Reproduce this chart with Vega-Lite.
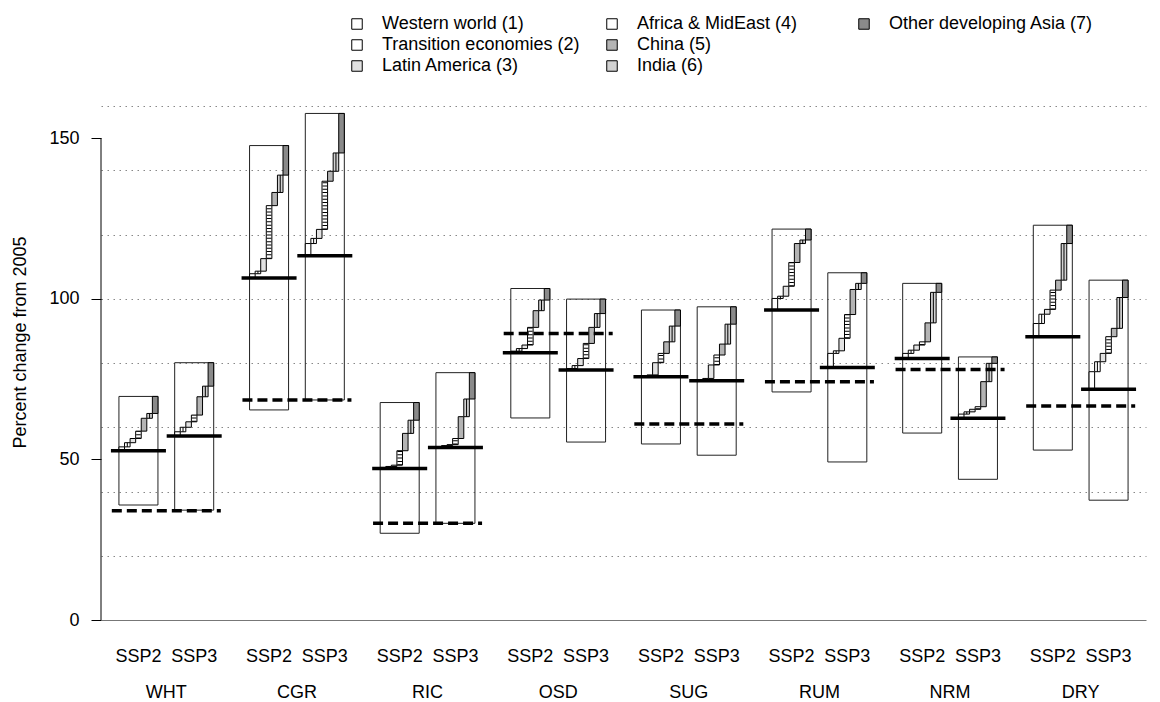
{
  "$schema": "https://vega.github.io/schema/vega-lite/v6.json",
  "width": 1045,
  "height": 530,
  "autosize": "none",
  "padding": {"left": 101, "top": 90, "right": 14, "bottom": 82},
  "background": "white",
  "config": {
    "view": {"stroke": null},
    "font": "Liberation Sans",
    "legend": {
      "orient": "none",
      "title": null,
      "symbolType": "square",
      "symbolSize": 110,
      "symbolStrokeColor": "black",
      "symbolStrokeWidth": 1,
      "labelFontSize": 18,
      "labelFont": "Liberation Sans",
      "labelColor": "black",
      "labelOffset": 16,
      "rowPadding": 3,
      "direction": "vertical",
      "padding": 0,
      "labelLimit": 400
    }
  },
  "datasets": {
    "bars": [
      {"crop": "WHT", "scen": "SSP2", "low": 35.8, "high": 69.6, "base": 52.7},
      {"crop": "WHT", "scen": "SSP3", "low": 34.2, "high": 80.1, "base": 57.3},
      {"crop": "CGR", "scen": "SSP2", "low": 65.4, "high": 147.7, "base": 106.5},
      {"crop": "CGR", "scen": "SSP3", "low": 68.5, "high": 157.7, "base": 113.4},
      {"crop": "RIC", "scen": "SSP2", "low": 27.0, "high": 67.7, "base": 47.2},
      {"crop": "RIC", "scen": "SSP3", "low": 30.1, "high": 77.0, "base": 53.7},
      {"crop": "OSD", "scen": "SSP2", "low": 62.9, "high": 103.2, "base": 83.2},
      {"crop": "OSD", "scen": "SSP3", "low": 55.4, "high": 99.9, "base": 77.8},
      {"crop": "SUG", "scen": "SSP2", "low": 54.8, "high": 96.5, "base": 75.7},
      {"crop": "SUG", "scen": "SSP3", "low": 51.3, "high": 97.5, "base": 74.5},
      {"crop": "RUM", "scen": "SSP2", "low": 71.0, "high": 121.7, "base": 96.5},
      {"crop": "RUM", "scen": "SSP3", "low": 49.2, "high": 108.1, "base": 78.6},
      {"crop": "NRM", "scen": "SSP2", "low": 58.2, "high": 104.8, "base": 81.4},
      {"crop": "NRM", "scen": "SSP3", "low": 43.8, "high": 81.9, "base": 62.8},
      {"crop": "DRY", "scen": "SSP2", "low": 52.9, "high": 122.9, "base": 88.2},
      {"crop": "DRY", "scen": "SSP3", "low": 37.3, "high": 105.8, "base": 71.8}
    ],
    "dashed": [
      {"crop": "WHT", "value": 34.0},
      {"crop": "CGR", "value": 68.5},
      {"crop": "RIC", "value": 30.1},
      {"crop": "OSD", "value": 89.2},
      {"crop": "SUG", "value": 61.0},
      {"crop": "RUM", "value": 74.2},
      {"crop": "NRM", "value": 78.0},
      {"crop": "DRY", "value": 66.6}
    ],
    "steps": [
      {"crop": "WHT", "scen": "SSP2", "region": "Western world (1)", "from": 52.7, "to": 53.9},
      {"crop": "WHT", "scen": "SSP2", "region": "Transition economies (2)", "from": 53.9, "to": 55.2},
      {"crop": "WHT", "scen": "SSP2", "region": "Latin America (3)", "from": 55.2, "to": 56.5},
      {"crop": "WHT", "scen": "SSP2", "region": "Africa & MidEast (4)", "from": 56.5, "to": 58.8},
      {"crop": "WHT", "scen": "SSP2", "region": "China (5)", "from": 58.8, "to": 62.8},
      {"crop": "WHT", "scen": "SSP2", "region": "India (6)", "from": 62.8, "to": 64.3},
      {"crop": "WHT", "scen": "SSP2", "region": "Other developing Asia (7)", "from": 64.3, "to": 69.6},
      {"crop": "WHT", "scen": "SSP3", "region": "Western world (1)", "from": 57.3, "to": 58.6},
      {"crop": "WHT", "scen": "SSP3", "region": "Transition economies (2)", "from": 58.6, "to": 60.0},
      {"crop": "WHT", "scen": "SSP3", "region": "Latin America (3)", "from": 60.0, "to": 61.7},
      {"crop": "WHT", "scen": "SSP3", "region": "Africa & MidEast (4)", "from": 61.7, "to": 63.8},
      {"crop": "WHT", "scen": "SSP3", "region": "China (5)", "from": 63.8, "to": 69.5},
      {"crop": "WHT", "scen": "SSP3", "region": "India (6)", "from": 69.5, "to": 72.8},
      {"crop": "WHT", "scen": "SSP3", "region": "Other developing Asia (7)", "from": 72.8, "to": 80.1},
      {"crop": "CGR", "scen": "SSP2", "region": "Western world (1)", "from": 106.5, "to": 107.8},
      {"crop": "CGR", "scen": "SSP2", "region": "Transition economies (2)", "from": 107.8, "to": 108.6},
      {"crop": "CGR", "scen": "SSP2", "region": "Latin America (3)", "from": 108.6, "to": 112.5},
      {"crop": "CGR", "scen": "SSP2", "region": "Africa & MidEast (4)", "from": 112.5, "to": 129.0},
      {"crop": "CGR", "scen": "SSP2", "region": "China (5)", "from": 129.0, "to": 133.1},
      {"crop": "CGR", "scen": "SSP2", "region": "India (6)", "from": 133.1, "to": 138.5},
      {"crop": "CGR", "scen": "SSP2", "region": "Other developing Asia (7)", "from": 138.5, "to": 147.7},
      {"crop": "CGR", "scen": "SSP3", "region": "Western world (1)", "from": 113.4, "to": 117.2},
      {"crop": "CGR", "scen": "SSP3", "region": "Transition economies (2)", "from": 117.2, "to": 118.8},
      {"crop": "CGR", "scen": "SSP3", "region": "Latin America (3)", "from": 118.8, "to": 121.6},
      {"crop": "CGR", "scen": "SSP3", "region": "Africa & MidEast (4)", "from": 121.6, "to": 136.6},
      {"crop": "CGR", "scen": "SSP3", "region": "China (5)", "from": 136.6, "to": 139.7},
      {"crop": "CGR", "scen": "SSP3", "region": "India (6)", "from": 139.7, "to": 145.4},
      {"crop": "CGR", "scen": "SSP3", "region": "Other developing Asia (7)", "from": 145.4, "to": 157.7},
      {"crop": "RIC", "scen": "SSP2", "region": "Western world (1)", "from": 47.2, "to": 47.5},
      {"crop": "RIC", "scen": "SSP2", "region": "Transition economies (2)", "from": 47.5, "to": 47.8},
      {"crop": "RIC", "scen": "SSP2", "region": "Latin America (3)", "from": 47.8, "to": 48.2},
      {"crop": "RIC", "scen": "SSP2", "region": "Africa & MidEast (4)", "from": 48.2, "to": 52.7},
      {"crop": "RIC", "scen": "SSP2", "region": "China (5)", "from": 52.7, "to": 58.1},
      {"crop": "RIC", "scen": "SSP2", "region": "India (6)", "from": 58.1, "to": 62.2},
      {"crop": "RIC", "scen": "SSP2", "region": "Other developing Asia (7)", "from": 62.2, "to": 67.7},
      {"crop": "RIC", "scen": "SSP3", "region": "Western world (1)", "from": 53.7, "to": 54.0},
      {"crop": "RIC", "scen": "SSP3", "region": "Transition economies (2)", "from": 54.0, "to": 54.3},
      {"crop": "RIC", "scen": "SSP3", "region": "Latin America (3)", "from": 54.3, "to": 54.6},
      {"crop": "RIC", "scen": "SSP3", "region": "Africa & MidEast (4)", "from": 54.6, "to": 56.5},
      {"crop": "RIC", "scen": "SSP3", "region": "China (5)", "from": 56.5, "to": 63.3},
      {"crop": "RIC", "scen": "SSP3", "region": "India (6)", "from": 63.3, "to": 68.8},
      {"crop": "RIC", "scen": "SSP3", "region": "Other developing Asia (7)", "from": 68.8, "to": 77.0},
      {"crop": "OSD", "scen": "SSP2", "region": "Western world (1)", "from": 83.2, "to": 83.7},
      {"crop": "OSD", "scen": "SSP2", "region": "Transition economies (2)", "from": 83.7, "to": 84.5},
      {"crop": "OSD", "scen": "SSP2", "region": "Latin America (3)", "from": 84.5, "to": 85.6},
      {"crop": "OSD", "scen": "SSP2", "region": "Africa & MidEast (4)", "from": 85.6, "to": 91.1},
      {"crop": "OSD", "scen": "SSP2", "region": "China (5)", "from": 91.1, "to": 96.3},
      {"crop": "OSD", "scen": "SSP2", "region": "India (6)", "from": 96.3, "to": 99.6},
      {"crop": "OSD", "scen": "SSP2", "region": "Other developing Asia (7)", "from": 99.6, "to": 103.2},
      {"crop": "OSD", "scen": "SSP3", "region": "Western world (1)", "from": 77.8, "to": 78.3},
      {"crop": "OSD", "scen": "SSP3", "region": "Transition economies (2)", "from": 78.3, "to": 79.2},
      {"crop": "OSD", "scen": "SSP3", "region": "Latin America (3)", "from": 79.2, "to": 81.4},
      {"crop": "OSD", "scen": "SSP3", "region": "Africa & MidEast (4)", "from": 81.4, "to": 86.1},
      {"crop": "OSD", "scen": "SSP3", "region": "China (5)", "from": 86.1, "to": 91.1},
      {"crop": "OSD", "scen": "SSP3", "region": "India (6)", "from": 91.1, "to": 95.4},
      {"crop": "OSD", "scen": "SSP3", "region": "Other developing Asia (7)", "from": 95.4, "to": 99.9},
      {"crop": "SUG", "scen": "SSP2", "region": "Western world (1)", "from": 75.7, "to": 75.9},
      {"crop": "SUG", "scen": "SSP2", "region": "Transition economies (2)", "from": 75.9, "to": 76.3},
      {"crop": "SUG", "scen": "SSP2", "region": "Latin America (3)", "from": 76.3, "to": 80.1},
      {"crop": "SUG", "scen": "SSP2", "region": "Africa & MidEast (4)", "from": 80.1, "to": 83.0},
      {"crop": "SUG", "scen": "SSP2", "region": "China (5)", "from": 83.0, "to": 86.6},
      {"crop": "SUG", "scen": "SSP2", "region": "India (6)", "from": 86.6, "to": 91.5},
      {"crop": "SUG", "scen": "SSP2", "region": "Other developing Asia (7)", "from": 91.5, "to": 96.5},
      {"crop": "SUG", "scen": "SSP3", "region": "Western world (1)", "from": 74.5, "to": 74.8},
      {"crop": "SUG", "scen": "SSP3", "region": "Transition economies (2)", "from": 74.8, "to": 75.2},
      {"crop": "SUG", "scen": "SSP3", "region": "Latin America (3)", "from": 75.2, "to": 79.4},
      {"crop": "SUG", "scen": "SSP3", "region": "Africa & MidEast (4)", "from": 79.4, "to": 82.5},
      {"crop": "SUG", "scen": "SSP3", "region": "China (5)", "from": 82.5, "to": 85.9},
      {"crop": "SUG", "scen": "SSP3", "region": "India (6)", "from": 85.9, "to": 92.1},
      {"crop": "SUG", "scen": "SSP3", "region": "Other developing Asia (7)", "from": 92.1, "to": 97.5},
      {"crop": "RUM", "scen": "SSP2", "region": "Western world (1)", "from": 96.5, "to": 100.1},
      {"crop": "RUM", "scen": "SSP2", "region": "Transition economies (2)", "from": 100.1, "to": 100.8},
      {"crop": "RUM", "scen": "SSP2", "region": "Latin America (3)", "from": 100.8, "to": 103.9},
      {"crop": "RUM", "scen": "SSP2", "region": "Africa & MidEast (4)", "from": 103.9, "to": 111.3},
      {"crop": "RUM", "scen": "SSP2", "region": "China (5)", "from": 111.3, "to": 117.2},
      {"crop": "RUM", "scen": "SSP2", "region": "India (6)", "from": 117.2, "to": 118.3},
      {"crop": "RUM", "scen": "SSP2", "region": "Other developing Asia (7)", "from": 118.3, "to": 121.7},
      {"crop": "RUM", "scen": "SSP3", "region": "Western world (1)", "from": 78.6, "to": 83.0},
      {"crop": "RUM", "scen": "SSP3", "region": "Transition economies (2)", "from": 83.0, "to": 83.8},
      {"crop": "RUM", "scen": "SSP3", "region": "Latin America (3)", "from": 83.8, "to": 87.7},
      {"crop": "RUM", "scen": "SSP3", "region": "Africa & MidEast (4)", "from": 87.7, "to": 95.1},
      {"crop": "RUM", "scen": "SSP3", "region": "China (5)", "from": 95.1, "to": 102.9},
      {"crop": "RUM", "scen": "SSP3", "region": "India (6)", "from": 102.9, "to": 104.8},
      {"crop": "RUM", "scen": "SSP3", "region": "Other developing Asia (7)", "from": 104.8, "to": 108.1},
      {"crop": "NRM", "scen": "SSP2", "region": "Western world (1)", "from": 81.4, "to": 83.0},
      {"crop": "NRM", "scen": "SSP2", "region": "Transition economies (2)", "from": 83.0, "to": 84.0},
      {"crop": "NRM", "scen": "SSP2", "region": "Latin America (3)", "from": 84.0, "to": 85.6},
      {"crop": "NRM", "scen": "SSP2", "region": "Africa & MidEast (4)", "from": 85.6, "to": 86.6},
      {"crop": "NRM", "scen": "SSP2", "region": "China (5)", "from": 86.6, "to": 92.5},
      {"crop": "NRM", "scen": "SSP2", "region": "India (6)", "from": 92.5, "to": 102.0},
      {"crop": "NRM", "scen": "SSP2", "region": "Other developing Asia (7)", "from": 102.0, "to": 104.8},
      {"crop": "NRM", "scen": "SSP3", "region": "Western world (1)", "from": 62.8, "to": 64.1},
      {"crop": "NRM", "scen": "SSP3", "region": "Transition economies (2)", "from": 64.1, "to": 64.8},
      {"crop": "NRM", "scen": "SSP3", "region": "Latin America (3)", "from": 64.8, "to": 65.6},
      {"crop": "NRM", "scen": "SSP3", "region": "Africa & MidEast (4)", "from": 65.6, "to": 66.4},
      {"crop": "NRM", "scen": "SSP3", "region": "China (5)", "from": 66.4, "to": 74.2},
      {"crop": "NRM", "scen": "SSP3", "region": "India (6)", "from": 74.2, "to": 79.9},
      {"crop": "NRM", "scen": "SSP3", "region": "Other developing Asia (7)", "from": 79.9, "to": 81.9},
      {"crop": "DRY", "scen": "SSP2", "region": "Western world (1)", "from": 88.2, "to": 92.3},
      {"crop": "DRY", "scen": "SSP2", "region": "Transition economies (2)", "from": 92.3, "to": 95.2},
      {"crop": "DRY", "scen": "SSP2", "region": "Latin America (3)", "from": 95.2, "to": 96.7},
      {"crop": "DRY", "scen": "SSP2", "region": "Africa & MidEast (4)", "from": 96.7, "to": 102.7},
      {"crop": "DRY", "scen": "SSP2", "region": "China (5)", "from": 102.7, "to": 105.8},
      {"crop": "DRY", "scen": "SSP2", "region": "India (6)", "from": 105.8, "to": 117.2},
      {"crop": "DRY", "scen": "SSP2", "region": "Other developing Asia (7)", "from": 117.2, "to": 122.9},
      {"crop": "DRY", "scen": "SSP3", "region": "Western world (1)", "from": 71.8, "to": 77.3},
      {"crop": "DRY", "scen": "SSP3", "region": "Transition economies (2)", "from": 77.3, "to": 80.4},
      {"crop": "DRY", "scen": "SSP3", "region": "Latin America (3)", "from": 80.4, "to": 83.0},
      {"crop": "DRY", "scen": "SSP3", "region": "Africa & MidEast (4)", "from": 83.0, "to": 88.2},
      {"crop": "DRY", "scen": "SSP3", "region": "China (5)", "from": 88.2, "to": 90.8},
      {"crop": "DRY", "scen": "SSP3", "region": "India (6)", "from": 90.8, "to": 100.4},
      {"crop": "DRY", "scen": "SSP3", "region": "Other developing Asia (7)", "from": 100.4, "to": 105.8}
    ]
  },
  "encoding": {
    "x": {
      "field": "crop",
      "type": "nominal",
      "scale": {"domain": ["WHT", "CGR", "RIC", "OSD", "SUG", "RUM", "NRM", "DRY"], "paddingInner": 0, "paddingOuter": 0},
      "axis": {
        "title": null,
        "ticks": false,
        "tickSize": 0,
        "domain": false,
        "labelAngle": 0,
        "labelPadding": 63,
        "labelFontSize": 18,
        "labelFont": "Liberation Sans",
        "labelColor": "black"
      }
    }
  },
  "layer": [
    {
      "data": {"name": "bars"},
      "mark": {"type": "rect", "filled": false, "color": "#222", "strokeWidth": 1},
      "encoding": {
        "xOffset": {"field": "scen", "type": "nominal", "scale": {"type": "band", "domain": ["SSP2", "SSP3"], "paddingInner": 0.3, "paddingOuter": 0.3216}},
        "y": {
          "field": "low",
          "type": "quantitative",
          "scale": {"domain": [0, 165], "nice": false, "zero": false},
          "axis": {
            "title": "Percent change from 2005",
            "titleFont": "Liberation Sans",
            "titleFontSize": 18,
            "titleFontWeight": "normal",
            "titleColor": "black",
            "titleAngle": -90,
            "titleX": -81,
            "titleY": 252,
            "titleAlign": "center",
            "titleBaseline": "middle",
            "values": [0, 20, 40, 50, 60, 80, 100, 120, 140, 150, 160],
            "format": "d",
            "labelFontSize": 18,
            "labelFont": "Liberation Sans",
            "labelColor": "black",
            "labelPadding": 12,
            "labelOverlap": false,
            "labelOpacity": {"condition": {"test": "datum.value % 50 === 0", "value": 1}, "value": 0},
            "tickSize": 10,
            "tickColor": "black",
            "tickOpacity": {"condition": {"test": "datum.value % 50 === 0", "value": 1}, "value": 0},
            "domain": false,
            "grid": true,
            "gridOpacity": {"condition": {"test": "datum.value % 20 === 0", "value": 1}, "value": 0},
            "gridDash": {"condition": {"test": "datum.value === 0", "value": []}, "value": [1.5, 4.5]},
            "gridColor": {"condition": {"test": "datum.value === 0", "value": "#777"}, "value": "#888"},
            "gridWidth": 1
          }
        },
        "y2": {"field": "high"}
      }
    },
    {
      "data": {"values": [{}]},
      "mark": {"type": "rule", "color": "black", "strokeWidth": 1},
      "encoding": {
        "x": {"value": 0},
        "y": {"datum": 0, "type": "quantitative"},
        "y2": {"datum": 150}
      }
    },
    {
      "data": {"name": "steps"},
      "transform": [{"filter": {"and": [{"field": "scen", "equal": "SSP2"}, {"field": "region", "oneOf": ["Western world (1)", "Transition economies (2)", "Latin America (3)"]}]}}],
      "mark": {"type": "rect", "stroke": "black", "strokeWidth": 1},
      "encoding": {
        "xOffset": {"field": "region", "type": "nominal", "scale": {"type": "band", "domain": ["_a", "_b", "_c", "Western world (1)", "Transition economies (2)", "Latin America (3)", "Africa & MidEast (4)", "China (5)", "India (6)", "Other developing Asia (7)", "_d", "_e", "_f", "_g", "_h", "_i", "_j", "_k", "_l", "_m", "_n", "_o", "_p"], "paddingInner": 0, "paddingOuter": 0.22}},
        "y": {"field": "from", "type": "quantitative"},
        "y2": {"field": "to"},
        "fill": {"field": "region", "type": "nominal", "scale": {"domain": ["Western world (1)", "Transition economies (2)", "Latin America (3)"], "range": ["#ffffff", "#ffffff", "#e2e2e2"]}, "legend": {"legendX": 247, "legendY": -75}}
      }
    },
    {
      "data": {"name": "steps"},
      "transform": [{"filter": {"and": [{"field": "scen", "equal": "SSP3"}, {"field": "region", "oneOf": ["Western world (1)", "Transition economies (2)", "Latin America (3)"]}]}}],
      "mark": {"type": "rect", "stroke": "black", "strokeWidth": 1},
      "encoding": {
        "xOffset": {"field": "region", "type": "nominal", "scale": {"type": "band", "domain": ["_a", "_b", "_c", "_d", "_e", "_f", "_g", "_h", "_i", "_j", "_k", "_l", "_m", "Western world (1)", "Transition economies (2)", "Latin America (3)", "Africa & MidEast (4)", "China (5)", "India (6)", "Other developing Asia (7)", "_n", "_o", "_p"], "paddingInner": 0, "paddingOuter": 0.22}},
        "y": {"field": "from", "type": "quantitative"},
        "y2": {"field": "to"},
        "fill": {"field": "region", "type": "nominal", "scale": {"domain": ["Western world (1)", "Transition economies (2)", "Latin America (3)"], "range": ["#ffffff", "#ffffff", "#e2e2e2"]}, "legend": null}
      }
    },
    {
      "data": {"name": "steps"},
      "transform": [{"filter": {"and": [{"field": "scen", "equal": "SSP2"}, {"field": "region", "oneOf": ["Africa & MidEast (4)", "China (5)", "India (6)"]}]}}],
      "mark": {"type": "rect", "stroke": "black", "strokeWidth": 1},
      "encoding": {
        "xOffset": {"field": "region", "type": "nominal", "scale": {"type": "band", "domain": ["_a", "_b", "_c", "Western world (1)", "Transition economies (2)", "Latin America (3)", "Africa & MidEast (4)", "China (5)", "India (6)", "Other developing Asia (7)", "_d", "_e", "_f", "_g", "_h", "_i", "_j", "_k", "_l", "_m", "_n", "_o", "_p"], "paddingInner": 0, "paddingOuter": 0.22}},
        "y": {"field": "from", "type": "quantitative"},
        "y2": {"field": "to"},
        "fill": {"field": "region", "type": "nominal", "scale": {"domain": ["Africa & MidEast (4)", "China (5)", "India (6)"], "range": ["#ffffff", "#b4b4b4", "#d2d2d2"]}, "legend": {"legendX": 502, "legendY": -75}}
      }
    },
    {
      "data": {"name": "steps"},
      "transform": [{"filter": {"and": [{"field": "scen", "equal": "SSP3"}, {"field": "region", "oneOf": ["Africa & MidEast (4)", "China (5)", "India (6)"]}]}}],
      "mark": {"type": "rect", "stroke": "black", "strokeWidth": 1},
      "encoding": {
        "xOffset": {"field": "region", "type": "nominal", "scale": {"type": "band", "domain": ["_a", "_b", "_c", "_d", "_e", "_f", "_g", "_h", "_i", "_j", "_k", "_l", "_m", "Western world (1)", "Transition economies (2)", "Latin America (3)", "Africa & MidEast (4)", "China (5)", "India (6)", "Other developing Asia (7)", "_n", "_o", "_p"], "paddingInner": 0, "paddingOuter": 0.22}},
        "y": {"field": "from", "type": "quantitative"},
        "y2": {"field": "to"},
        "fill": {"field": "region", "type": "nominal", "scale": {"domain": ["Africa & MidEast (4)", "China (5)", "India (6)"], "range": ["#ffffff", "#b4b4b4", "#d2d2d2"]}, "legend": null}
      }
    },
    {
      "data": {"name": "steps"},
      "transform": [{"filter": {"and": [{"field": "scen", "equal": "SSP2"}, {"field": "region", "equal": "Other developing Asia (7)"}]}}],
      "mark": {"type": "rect", "stroke": "black", "strokeWidth": 1},
      "encoding": {
        "xOffset": {"field": "region", "type": "nominal", "scale": {"type": "band", "domain": ["_a", "_b", "_c", "Western world (1)", "Transition economies (2)", "Latin America (3)", "Africa & MidEast (4)", "China (5)", "India (6)", "Other developing Asia (7)", "_d", "_e", "_f", "_g", "_h", "_i", "_j", "_k", "_l", "_m", "_n", "_o", "_p"], "paddingInner": 0, "paddingOuter": 0.22}},
        "y": {"field": "from", "type": "quantitative"},
        "y2": {"field": "to"},
        "fill": {"field": "region", "type": "nominal", "scale": {"domain": ["Other developing Asia (7)"], "range": ["#8a8a8a"]}, "legend": {"legendX": 754, "legendY": -75}}
      }
    },
    {
      "data": {"name": "steps"},
      "transform": [{"filter": {"and": [{"field": "scen", "equal": "SSP3"}, {"field": "region", "equal": "Other developing Asia (7)"}]}}],
      "mark": {"type": "rect", "stroke": "black", "strokeWidth": 1},
      "encoding": {
        "xOffset": {"field": "region", "type": "nominal", "scale": {"type": "band", "domain": ["_a", "_b", "_c", "_d", "_e", "_f", "_g", "_h", "_i", "_j", "_k", "_l", "_m", "Western world (1)", "Transition economies (2)", "Latin America (3)", "Africa & MidEast (4)", "China (5)", "India (6)", "Other developing Asia (7)", "_n", "_o", "_p"], "paddingInner": 0, "paddingOuter": 0.22}},
        "y": {"field": "from", "type": "quantitative"},
        "y2": {"field": "to"},
        "fill": {"field": "region", "type": "nominal", "scale": {"domain": ["Other developing Asia (7)"], "range": ["#8a8a8a"]}, "legend": null}
      }
    },
    {
      "data": {"name": "steps"},
      "transform": [{"filter": {"and": [{"field": "scen", "equal": "SSP2"}, {"field": "region", "equal": "Africa & MidEast (4)"}]}}],
      "mark": {"type": "rule", "color": "black", "strokeWidth": 4.6, "strokeDash": [1, 2.3]},
      "encoding": {
        "xOffset": {"field": "region", "type": "nominal", "scale": {"type": "band", "domain": ["_a", "_b", "_c", "Western world (1)", "Transition economies (2)", "Latin America (3)", "Africa & MidEast (4)", "China (5)", "India (6)", "Other developing Asia (7)", "_d", "_e", "_f", "_g", "_h", "_i", "_j", "_k", "_l", "_m", "_n", "_o", "_p"], "paddingInner": 0, "paddingOuter": 0.22}},
        "y": {"field": "from", "type": "quantitative"},
        "y2": {"field": "to"}
      }
    },
    {
      "data": {"name": "steps"},
      "transform": [{"filter": {"and": [{"field": "scen", "equal": "SSP3"}, {"field": "region", "equal": "Africa & MidEast (4)"}]}}],
      "mark": {"type": "rule", "color": "black", "strokeWidth": 4.6, "strokeDash": [1, 2.3]},
      "encoding": {
        "xOffset": {"field": "region", "type": "nominal", "scale": {"type": "band", "domain": ["_a", "_b", "_c", "_d", "_e", "_f", "_g", "_h", "_i", "_j", "_k", "_l", "_m", "Western world (1)", "Transition economies (2)", "Latin America (3)", "Africa & MidEast (4)", "China (5)", "India (6)", "Other developing Asia (7)", "_n", "_o", "_p"], "paddingInner": 0, "paddingOuter": 0.22}},
        "y": {"field": "from", "type": "quantitative"},
        "y2": {"field": "to"}
      }
    },
    {
      "data": {"name": "steps"},
      "transform": [{"filter": {"and": [{"field": "scen", "equal": "SSP2"}, {"field": "region", "oneOf": ["Transition economies (2)", "India (6)"]}]}}],
      "mark": {"type": "rule", "color": "black", "strokeWidth": 1},
      "encoding": {
        "xOffset": {"field": "region", "type": "nominal", "scale": {"type": "band", "domain": ["_a", "_b", "_c", "Western world (1)", "Transition economies (2)", "Latin America (3)", "Africa & MidEast (4)", "China (5)", "India (6)", "Other developing Asia (7)", "_d", "_e", "_f", "_g", "_h", "_i", "_j", "_k", "_l", "_m", "_n", "_o", "_p"], "paddingInner": 0, "paddingOuter": 0.22}},
        "y": {"field": "from", "type": "quantitative"},
        "y2": {"field": "to"}
      }
    },
    {
      "data": {"name": "steps"},
      "transform": [{"filter": {"and": [{"field": "scen", "equal": "SSP3"}, {"field": "region", "oneOf": ["Transition economies (2)", "India (6)"]}]}}],
      "mark": {"type": "rule", "color": "black", "strokeWidth": 1},
      "encoding": {
        "xOffset": {"field": "region", "type": "nominal", "scale": {"type": "band", "domain": ["_a", "_b", "_c", "_d", "_e", "_f", "_g", "_h", "_i", "_j", "_k", "_l", "_m", "Western world (1)", "Transition economies (2)", "Latin America (3)", "Africa & MidEast (4)", "China (5)", "India (6)", "Other developing Asia (7)", "_n", "_o", "_p"], "paddingInner": 0, "paddingOuter": 0.22}},
        "y": {"field": "from", "type": "quantitative"},
        "y2": {"field": "to"}
      }
    },
    {
      "data": {"name": "bars"},
      "mark": {"type": "tick", "size": 55, "thickness": 3.5, "color": "black", "opacity": 1},
      "encoding": {
        "xOffset": {"field": "scen", "type": "nominal", "scale": {"type": "band", "domain": ["SSP2", "SSP3"], "paddingInner": 0.3, "paddingOuter": 0.3216}},
        "y": {"field": "base", "type": "quantitative"}
      }
    },
    {
      "data": {"name": "dashed"},
      "mark": {"type": "rule", "color": "black", "strokeWidth": 3.5, "strokeDash": [10, 5], "xOffset": -54.5, "x2Offset": 54.5},
      "encoding": {
        "x2": {"field": "crop"},
        "y": {"field": "value", "type": "quantitative"}
      }
    },
    {
      "data": {"name": "bars"},
      "mark": {"type": "text", "fontSize": 18, "font": "Liberation Sans", "color": "black", "align": "center", "baseline": "middle"},
      "encoding": {
        "xOffset": {"field": "scen", "type": "nominal", "scale": {"type": "band", "domain": ["SSP2", "SSP3"], "paddingInner": 0.3, "paddingOuter": 0.3216}},
        "y": {"datum": -11.5, "type": "quantitative"},
        "text": {"field": "scen"}
      }
    }
  ],
  "resolve": {"scale": {"xOffset": "independent", "fill": "independent"}}
}
